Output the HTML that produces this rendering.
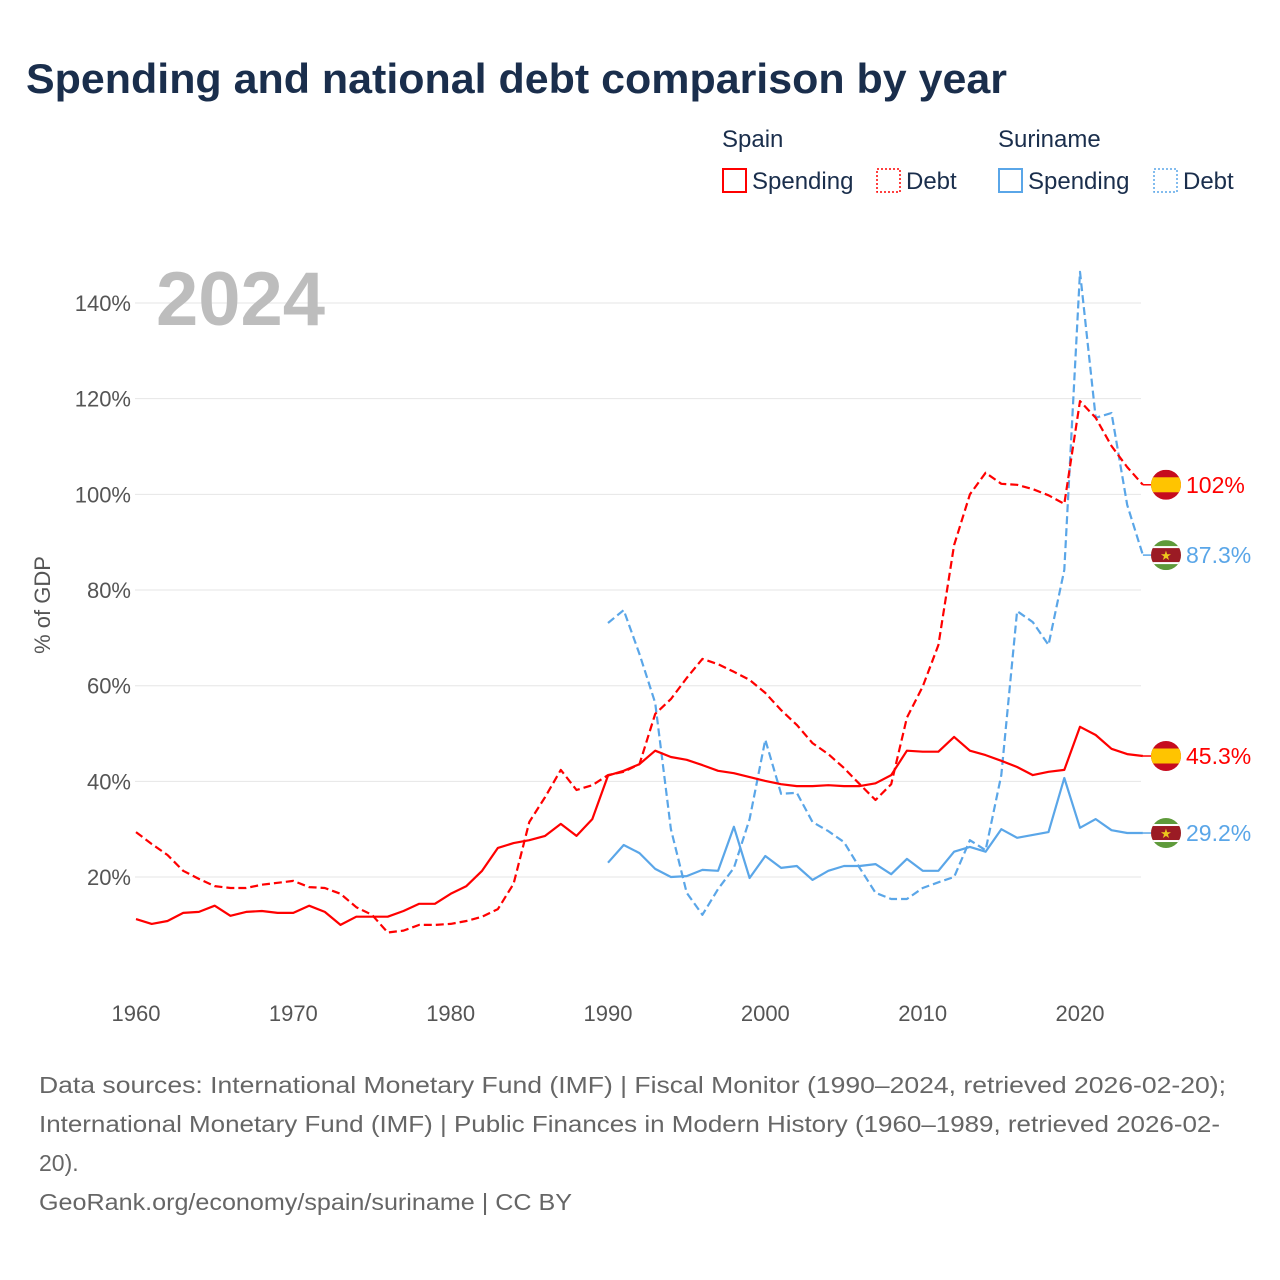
<!DOCTYPE html>
<html><head><meta charset="utf-8"><style>
html,body{margin:0;padding:0;background:#fff;}
svg{display:block;font-family:"Liberation Sans",sans-serif;}
</style></head><body>
<svg id="chart" width="1280" height="1280" viewBox="0 0 1280 1280" xmlns="http://www.w3.org/2000/svg">
<text x="26" y="93" font-size="42" font-weight="bold" fill="#1a2e4c" textLength="981" lengthAdjust="spacingAndGlyphs">Spending and national debt comparison by year</text>
<g font-size="24" fill="#1a2e4c">
<text x="722" y="147">Spain</text>
<text x="998" y="147">Suriname</text>
<g><rect x="723" y="169" width="23" height="23" fill="none" stroke="#f00" stroke-width="2"/><text x="752" y="189">Spending</text></g>
<g><rect x="877" y="169" width="23" height="23" fill="none" stroke="#f00" stroke-width="1.5" stroke-dasharray="2,2"/><text x="906" y="189">Debt</text></g>
<g><rect x="999" y="169" width="23" height="23" fill="none" stroke="#5aa6e8" stroke-width="2"/><text x="1028" y="189">Spending</text></g>
<g><rect x="1154" y="169" width="23" height="23" fill="none" stroke="#5aa6e8" stroke-width="1.5" stroke-dasharray="2,2"/><text x="1183" y="189">Debt</text></g>
</g>
<g id="grid"></g>
<g id="yticks" font-size="22" fill="#555" text-anchor="end"></g>
<g id="xticks" font-size="22" fill="#555" text-anchor="middle"></g>
<text x="156" y="325" font-size="76" font-weight="bold" fill="#bdbdbd">2024</text>
<text transform="translate(50,605) rotate(-90)" font-size="22" fill="#555" text-anchor="middle">% of GDP</text>
<g id="series"></g>
<g id="ends"></g>
<g font-size="23" fill="#666">
<text x="39" y="1093" textLength="1187" lengthAdjust="spacingAndGlyphs">Data sources: International Monetary Fund (IMF) | Fiscal Monitor (1990–2024, retrieved 2026-02-20);</text>
<text x="39" y="1132" textLength="1181" lengthAdjust="spacingAndGlyphs">International Monetary Fund (IMF) | Public Finances in Modern History (1960–1989, retrieved 2026-02-</text>
<text x="39" y="1171">20).</text>
<text x="39" y="1210" textLength="533" lengthAdjust="spacingAndGlyphs">GeoRank.org/economy/spain/suriname | CC BY</text>
</g>
</svg>
<script>
const yTicks=[20,40,60,80,100,120,140];
const yTickLabels=["20%","40%","60%","80%","100%","120%","140%"];
const xTicks=[1960,1970,1980,1990,2000,2010,2020];
const spainYears=[1960,1961,1962,1963,1964,1965,1966,1967,1968,1969,1970,1971,1972,1973,1974,1975,1976,1977,1978,1979,1980,1981,1982,1983,1984,1985,1986,1987,1988,1989,1990,1991,1992,1993,1994,1995,1996,1997,1998,1999,2000,2001,2002,2003,2004,2005,2006,2007,2008,2009,2010,2011,2012,2013,2014,2015,2016,2017,2018,2019,2020,2021,2022,2023,2024];
const spainSpending=[11.2,10.2,10.8,12.5,12.7,14,11.9,12.7,12.9,12.5,12.5,14,12.7,10,11.7,11.7,11.7,12.9,14.4,14.4,16.5,18.1,21.3,26.1,27.1,27.7,28.6,31.1,28.6,32.1,41.2,42.2,43.6,46.4,45.1,44.5,43.4,42.2,41.7,40.9,40.1,39.4,39,39,39.2,39,39,39.6,41.3,46.4,46.2,46.2,49.3,46.4,45.5,44.3,43,41.3,42,42.4,51.4,49.7,46.8,45.7,45.3];
const spainDebt=[29.4,26.9,24.6,21.3,19.6,18.1,17.7,17.7,18.4,18.8,19.2,17.9,17.7,16.5,13.7,12.1,8.4,8.8,10,10,10.2,10.8,11.7,13.3,18.6,31.5,36.7,42.4,38.2,39.2,41.3,42,43.6,54.1,57.2,61.6,65.6,64.5,62.9,61.2,58.5,54.9,51.8,48,45.7,42.8,39.4,36.1,39.4,53.3,59.8,68.5,89.4,100,104.5,102.2,102,101.1,99.8,98,119.5,116,110.1,105.7,102];
const surYears=[1990,1991,1992,1993,1994,1995,1996,1997,1998,1999,2000,2001,2002,2003,2004,2005,2006,2007,2008,2009,2010,2011,2012,2013,2014,2015,2016,2017,2018,2019,2020,2021,2022,2023,2024];
const surSpending=[23,26.7,25,21.7,20,20.2,21.5,21.3,30.5,19.8,24.4,21.9,22.3,19.4,21.3,22.3,22.3,22.7,20.6,23.8,21.3,21.3,25.3,26.3,25.3,30,28.2,28.8,29.4,40.7,30.3,32.1,29.8,29.2,29.2];
const surDebtValues=[73.1,75.8,66.6,56.4,30,16.7,12.1,17.5,21.9,32.1,48.7,37.4,37.6,31.5,29.6,27.3,21.9,16.7,15.4,15.4,17.7,18.9,20,27.7,25.6,41.3,75.6,73.3,68.5,84.2,146.5,116,117,97.8,87.3];
</script>
<script>
const NS="http://www.w3.org/2000/svg";
function xScale(yr){return 136+(yr-1960)*(944/60);}
function yScale(v){return 972.7-v*4.7835;}
function mk(tag,attrs,parent){const e=document.createElementNS(NS,tag);for(const k in attrs)e.setAttribute(k,attrs[k]);parent.appendChild(e);return e;}
const grid=document.getElementById('grid'),yt=document.getElementById('yticks'),xt=document.getElementById('xticks');
yTicks.forEach((v,i)=>{
  const l=mk('line',{x1:135,x2:1141,y1:yScale(v),y2:yScale(v),stroke:'#e6e6e6','stroke-width':1},grid);
  
  
  const t=mk('text',{x:131,y:yScale(v)+8},yt);t.textContent=yTickLabels[i];
  
  
});
xTicks.forEach(v=>{
  const t=mk('text',{x:xScale(v),y:1021},xt);t.textContent=String(v);
  
  
});
const ser=document.getElementById('series');
function line(years,vals,color,dash,name){
  const d=years.map((y,i)=>(i?'L':'M')+xScale(y).toFixed(1)+','+yScale(vals[i]).toFixed(1)).join(' ');
  const p=mk('path',{d:d,fill:'none',stroke:color,'stroke-width':2.2,'stroke-linejoin':'round'},ser);
  if(dash)p.setAttribute('stroke-dasharray','8,4');
  
  
}
line(surYears,surDebtValues,'#5aa6e8',true,'suriname-debt-line');
line(surYears,surSpending,'#5aa6e8',false,'suriname-spending-line');
line(spainYears,spainDebt,'#f00',true,'spain-debt-line');
line(spainYears,spainSpending,'#f00',false,'spain-spending-line');
const ends=document.getElementById('ends');
function flag(cx,cy,country){
  const g=mk('g',{},ends);
  
  
  const id='c'+Math.round(cy);
  const cp=mk('clipPath',{id:id},g);mk('circle',{cx:cx,cy:cy,r:15},cp);
  const gg=mk('g',{'clip-path':'url(#'+id+')'},g);
  if(country==='spain'){
    mk('rect',{x:cx-15,y:cy-15,width:30,height:30,fill:'#c60b1e'},gg);
    mk('rect',{x:cx-15,y:cy-7.5,width:30,height:15,fill:'#ffc400'},gg);
  }else{
    mk('rect',{x:cx-15,y:cy-15,width:30,height:30,fill:'#5e9a3a'},gg);
    mk('rect',{x:cx-15,y:cy-9,width:30,height:18,fill:'#fff'},gg);
    mk('rect',{x:cx-15,y:cy-7,width:30,height:14,fill:'#9b1b24'},gg);
    const t=mk('text',{x:cx,y:cy+5,'font-size':13,fill:'#ecc81d','text-anchor':'middle'},gg);t.textContent='★';
  }
}
function endLabel(years,vals,color,country,label,name){
  const x=xScale(years[years.length-1]),y=yScale(vals[vals.length-1]);
  const l=mk('line',{x1:x,x2:1152,y1:y,y2:y,stroke:color,'stroke-width':1.5},ends);
  
  
  flag(1166,y,country);
  const t=mk('text',{x:1186,y:y+8,'font-size':23,fill:color},ends);t.textContent=label;
  
  
}
endLabel(spainYears,spainDebt,'#f00','spain',Math.round(spainDebt[spainDebt.length-1])+'%','spain-debt');
endLabel(surYears,surDebtValues,'#5aa6e8','suriname',surDebtValues[surDebtValues.length-1].toFixed(1)+'%','suriname-debt');
endLabel(spainYears,spainSpending,'#f00','spain',spainSpending[spainSpending.length-1].toFixed(1)+'%','spain-spending');
endLabel(surYears,surSpending,'#5aa6e8','suriname',surSpending[surSpending.length-1].toFixed(1)+'%','suriname-spending');
</script>
</body></html>
